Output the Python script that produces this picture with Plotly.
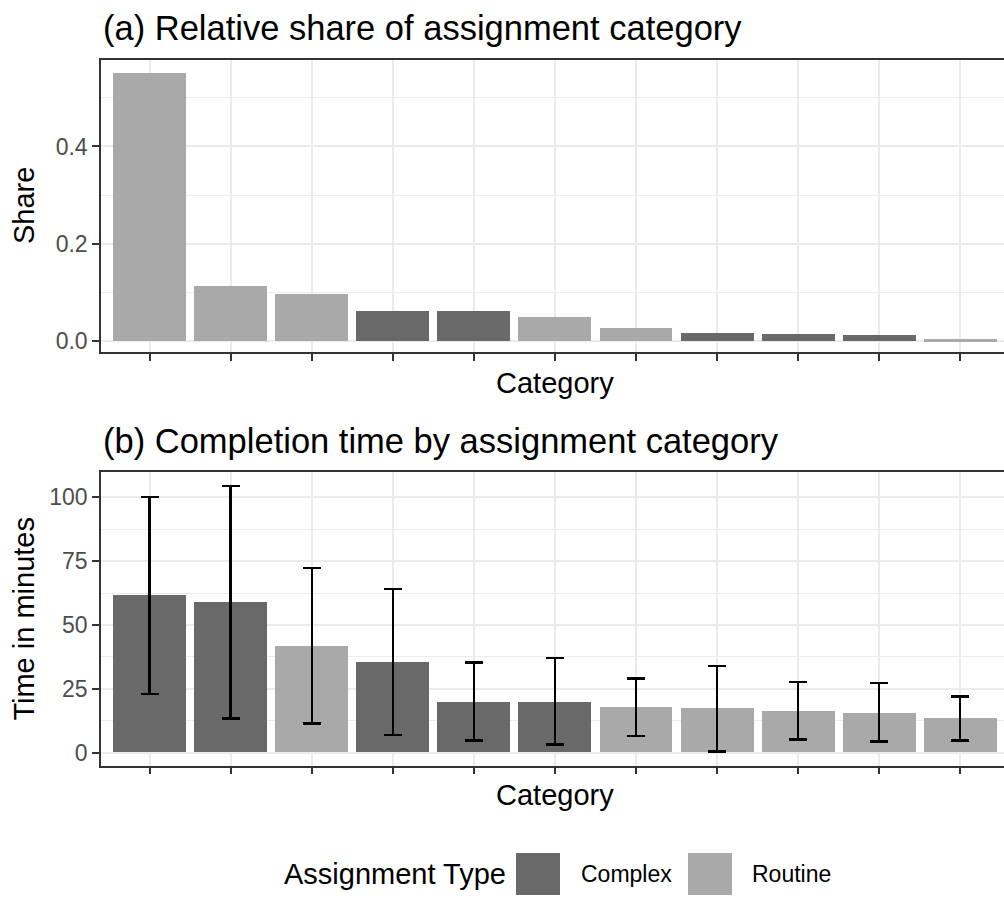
import plotly.graph_objects as go

# ---- data ----
share_rank = list(range(1, 12))
share_values = [0.552, 0.114, 0.096, 0.063, 0.061, 0.049, 0.028, 0.016, 0.014, 0.012, 0.004]
share_types = ["Routine", "Routine", "Routine", "Complex", "Complex", "Routine",
               "Routine", "Complex", "Complex", "Complex", "Routine"]

time_rank = list(range(1, 12))
time_mean = [61.8, 59.0, 41.8, 35.2, 19.9, 19.9, 17.6, 17.2, 16.4, 15.6, 13.3]
time_lower = [23.0, 13.4, 11.4, 6.9, 4.7, 3.2, 6.6, 0.4, 5.2, 4.4, 4.7]
time_upper = [100.2, 104.5, 72.3, 64.1, 35.3, 37.0, 29.1, 34.0, 27.7, 27.2, 21.9]
time_types = ["Complex", "Complex", "Routine", "Complex", "Complex", "Complex",
              "Routine", "Routine", "Routine", "Routine", "Routine"]

type_colors = {"Complex": "#696969", "Routine": "#A9A9A9"}

W, H = 1004, 900
L = 101
PW = W - L
FONT = "Liberation Sans"

def xp(px):
    return (px - L) / PW

def yp(py):
    return 1 - py / H

fig = go.Figure()

fig.add_trace(go.Bar(
    x=share_rank, y=share_values, width=0.9,
    marker=dict(color=[type_colors[t] for t in share_types], line=dict(width=0)),
    showlegend=False, xaxis="x", yaxis="y",
))

fig.add_trace(go.Bar(
    x=time_rank, y=time_mean, width=0.9,
    marker=dict(color=[type_colors[t] for t in time_types], line=dict(width=0)),
    error_y=dict(type="data", symmetric=False,
                 array=[u - m for u, m in zip(time_upper, time_mean)],
                 arrayminus=[m - l for m, l in zip(time_mean, time_lower)],
                 color="black", thickness=2.5, width=9),
    showlegend=False, xaxis="x2", yaxis="y2",
))

grid = "#EBEBEB"
border = "#333333"
common_x = dict(
    range=[0.4, 11.54], tickmode="array", tickvals=share_rank, showticklabels=False,
    ticks="outside", ticklen=7, tickwidth=1.5, tickcolor=border,
    showgrid=True, gridcolor=grid, gridwidth=1.5,
    showline=True, linecolor=border, linewidth=1.5, mirror=True, zeroline=False,
    fixedrange=True,
)
common_y = dict(
    ticks="outside", ticklen=7, tickwidth=1.5, tickcolor=border,
    tickfont=dict(family=FONT, size=23, color="#4D4D4D"),
    showgrid=True, gridcolor=grid, gridwidth=1.5,
    showline=True, linecolor=border, linewidth=1.5, mirror=False, zeroline=False,
)

fig.update_layout(
    width=W, height=H,
    margin=dict(l=L, r=0, t=0, b=0),
    paper_bgcolor="white", plot_bgcolor="white",
    bargap=0, font=dict(family=FONT),
    xaxis=dict(domain=[0, 1], anchor="y", **common_x),
    yaxis=dict(domain=[yp(353), yp(60)], anchor="x", range=[-0.023, 0.578],
               tickvals=[0.0, 0.2, 0.4], ticktext=["0.0", "0.2", "0.4"],
               minor=dict(tickvals=[0.1, 0.3, 0.5], showgrid=True, gridcolor=grid,
                          gridwidth=0.8, ticks=""),
               **common_y),
    xaxis2=dict(domain=[0, 1], anchor="y2", **common_x),
    yaxis2=dict(domain=[yp(767.3), yp(473.3)], anchor="x2", range=[-5.08, 109.8],
                tickvals=[0, 25, 50, 75, 100],
                minor=dict(tickvals=[12.5, 37.5, 62.5, 87.5], showgrid=True,
                           gridcolor=grid, gridwidth=0.8, ticks=""),
                **common_y),
)

ann = []
# panel titles
ann.append(dict(text="(a) Relative share of assignment category", x=xp(101), y=yp(28),
                xanchor="left", yanchor="middle", font=dict(size=34.5, color="black")))
ann.append(dict(text="(b) Completion time by assignment category", x=xp(101), y=yp(442),
                xanchor="left", yanchor="middle", font=dict(size=34.5, color="black")))
# axis titles
ann.append(dict(text="Share", x=xp(24), y=yp(206.5), textangle=-90,
                xanchor="center", yanchor="middle", font=dict(size=29, color="black")))
ann.append(dict(text="Time in minutes", x=xp(24), y=yp(620), textangle=-90,
                xanchor="center", yanchor="middle", font=dict(size=29, color="black")))
ann.append(dict(text="Category", x=xp(555), y=yp(384),
                xanchor="center", yanchor="middle", font=dict(size=29, color="black")))
ann.append(dict(text="Category", x=xp(555), y=yp(797),
                xanchor="center", yanchor="middle", font=dict(size=29, color="black")))
# legend
ann.append(dict(text="Assignment Type", x=xp(282), y=yp(876),
                xanchor="left", yanchor="middle", font=dict(size=29, color="black")))
ann.append(dict(text="Complex", x=xp(579), y=yp(876),
                xanchor="left", yanchor="middle", font=dict(size=23, color="black")))
ann.append(dict(text="Routine", x=xp(750), y=yp(876),
                xanchor="left", yanchor="middle", font=dict(size=23, color="black")))
for a in ann:
    a.update(xref="paper", yref="paper", showarrow=False)
    a["font"]["family"] = FONT
fig.update_layout(annotations=ann)

shapes = []
for (x0, x1, t) in [(516, 560, "Complex"), (688, 732, "Routine")]:
    shapes.append(dict(type="rect", xref="paper", yref="paper",
                       x0=xp(x0), x1=xp(x1), y0=yp(897), y1=yp(855),
                       fillcolor=type_colors[t], line=dict(width=0)))
fig.update_layout(shapes=shapes)

fig.write_html("out.html", config={"displayModeBar": False})
